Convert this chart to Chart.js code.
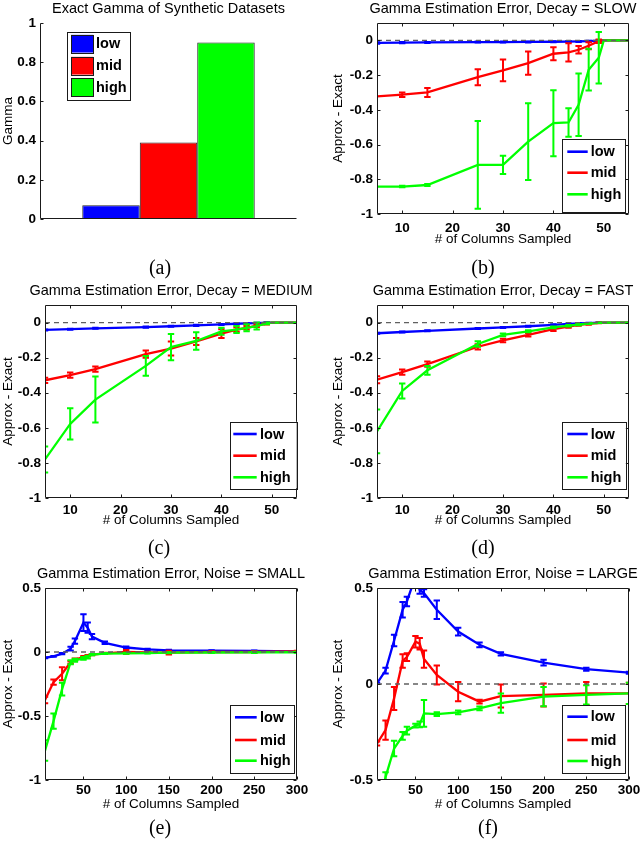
<!DOCTYPE html>
<html><head><meta charset="utf-8">
<script src="https://cdn.jsdelivr.net/npm/chart.js@4.4.1/dist/chart.umd.min.js"></script>
<style>
html,body{margin:0;padding:0;background:#fff;}
#fig{position:relative;width:640px;height:843px;overflow:hidden;background:#fff;}
canvas{position:absolute;}
.ttl{position:absolute;font-family:"Liberation Sans",Arial,Helvetica,sans-serif;font-size:14.5px;color:#000;white-space:nowrap;transform:translate(-50%,-50%);line-height:1;}
.cap{position:absolute;font-family:"Liberation Serif","Times New Roman",serif;font-size:20px;color:#000;white-space:nowrap;transform:translate(-50%,-50%);line-height:1;}
</style></head><body>
<div id="fig">
<canvas id="pa" width="320" height="280" style="left:0;top:0"></canvas>
<canvas id="pb" width="320" height="280" style="left:320px;top:0"></canvas>
<canvas id="pc" width="320" height="280" style="left:0;top:280px"></canvas>
<canvas id="pd" width="320" height="280" style="left:320px;top:280px"></canvas>
<canvas id="pe" width="320" height="283" style="left:0;top:560px"></canvas>
<canvas id="pf" width="320" height="283" style="left:320px;top:560px"></canvas>
<div class="ttl" style="left:168.5px;top:7.5px">Exact Gamma of Synthetic Datasets</div>
<div class="ttl" style="left:503px;top:7.5px">Gamma Estimation Error, Decay = SLOW</div>
<div class="ttl" style="left:171px;top:290px">Gamma Estimation Error, Decay = MEDIUM</div>
<div class="ttl" style="left:503px;top:290px">Gamma Estimation Error, Decay = FAST</div>
<div class="ttl" style="left:171px;top:572.7px">Gamma Estimation Error, Noise = SMALL</div>
<div class="ttl" style="left:503px;top:572.7px">Gamma Estimation Error, Noise = LARGE</div>
<div class="cap" style="left:160px;top:267px">(a)</div>
<div class="cap" style="left:483px;top:267px">(b)</div>
<div class="cap" style="left:159px;top:547px">(c)</div>
<div class="cap" style="left:483px;top:547px">(d)</div>
<div class="cap" style="left:160px;top:827px">(e)</div>
<div class="cap" style="left:488px;top:827px">(f)</div>
</div>
<script>
// ---------------- data ----------------
const gammaLabels = ['low', 'mid', 'high'];
const gammaValues = [0.07, 0.39, 0.90];
const yTicksGamma = [0, 0.2, 0.4, 0.6, 0.8, 1];

const xTicksDecay = [10, 20, 30, 40, 50];
const yTicksDecay = [-1, -0.8, -0.6, -0.4, -0.2, 0];
const xTicksNoise = [50, 100, 150, 200, 250, 300];
const yTicksNoiseSmall = [-1, -0.5, 0, 0.5];
const yTicksNoiseLarge = [-0.5, 0, 0.5];

// Decay = SLOW
const colsSlow    = [5, 10, 15, 25, 30, 35, 40, 43, 45, 47, 49, 50, 55];
const lowSlow     = [-0.015, -0.013, -0.012, -0.010, -0.010, -0.009, -0.008, -0.007, -0.006, -0.004, -0.002, 0, 0];
const lowSlowErr  = [0.004, 0.004, 0.003, 0.003, 0.003, 0.003, 0.003, 0.003, 0.003, 0.002, 0.002, 0, 0];
const midSlow     = [-0.323, -0.313, -0.300, -0.212, -0.173, -0.131, -0.077, -0.069, -0.054, -0.031, -0.005, 0, 0];
const midSlowErr  = [0, 0.013, 0.026, 0.046, 0.063, 0.067, 0.037, 0.053, 0.022, 0.020, 0.010, 0, 0];
const highSlow    = [-0.842, -0.842, -0.833, -0.717, -0.717, -0.583, -0.477, -0.473, -0.371, -0.169, -0.100, 0, 0];
const highSlowErr = [0, 0.004, 0.006, 0.253, 0.052, 0.221, 0.190, 0.082, 0.180, 0.120, 0.148, 0, 0];

// Decay = MEDIUM
const colsMed    = [5, 10, 15, 25, 30, 35, 40, 43, 45, 47, 49, 50, 55];
const lowMed     = [-0.042, -0.038, -0.033, -0.026, -0.021, -0.016, -0.011, -0.007, -0.005, -0.003, -0.001, 0, 0];
const lowMedErr  = [0.003, 0.003, 0.003, 0.003, 0.003, 0.003, 0.003, 0.003, 0.003, 0.002, 0.002, 0, 0];
const midMed     = [-0.329, -0.300, -0.266, -0.180, -0.148, -0.108, -0.063, -0.040, -0.030, -0.018, -0.006, 0, 0];
const midMedErr  = [0.015, 0.015, 0.015, 0.020, 0.040, 0.020, 0.025, 0.012, 0.010, 0.008, 0.005, 0, 0];
const highMed    = [-0.780, -0.578, -0.439, -0.247, -0.140, -0.105, -0.050, -0.040, -0.030, -0.020, -0.005, 0, 0];
const highMedErr = [0.074, 0.089, 0.131, 0.056, 0.075, 0.050, 0.020, 0.020, 0.020, 0.020, 0.005, 0, 0];

// Decay = FAST
const colsFast    = [5, 10, 15, 25, 30, 35, 40, 43, 45, 47, 49, 50, 55];
const lowFast     = [-0.061, -0.054, -0.047, -0.034, -0.028, -0.021, -0.013, -0.008, -0.005, -0.003, -0.001, 0, 0];
const lowFastErr  = [0.003, 0.003, 0.003, 0.003, 0.003, 0.003, 0.003, 0.002, 0.002, 0.002, 0.001, 0, 0];
const midFast     = [-0.326, -0.283, -0.237, -0.138, -0.102, -0.070, -0.038, -0.023, -0.013, -0.008, -0.002, 0, 0];
const midFastErr  = [0.020, 0.015, 0.015, 0.015, 0.010, 0.010, 0.010, 0.006, 0.005, 0.004, 0.002, 0, 0];
const highFast    = [-0.620, -0.390, -0.272, -0.122, -0.070, -0.050, -0.028, -0.018, -0.012, -0.006, -0.002, 0, 0];
const highFastErr = [0.125, 0.043, 0.025, 0.016, 0.008, 0.006, 0.005, 0.004, 0.003, 0.002, 0.001, 0, 0];

// Noise = SMALL
const colsSmall    = [5, 15, 25, 35, 40, 50, 55, 60, 75, 100, 125, 150, 200, 250, 300];
const lowSmall     = [-0.045, -0.034, -0.013, 0.026, 0.085, 0.230, 0.190, 0.120, 0.072, 0.035, 0.020, 0.013, 0.010, 0.008, 0.005];
const lowSmallErr  = [0.003, 0.003, 0.005, 0.015, 0.020, 0.065, 0.040, 0.020, 0.010, 0.008, 0.005, 0.004, 0.004, 0.004, 0.003];
const midSmall     = [-0.375, -0.235, -0.170, -0.080, -0.060, -0.040, -0.030, -0.020, -0.010, 0.000, -0.003, -0.005, 0.000, 0.000, 0.005];
const midSmallErr  = [0.025, 0.020, 0.050, 0.010, 0.010, 0.008, 0.006, 0.005, 0.005, 0.015, 0.005, 0.015, 0.005, 0.005, 0.005];
const highSmall    = [-0.770, -0.540, -0.290, -0.080, -0.065, -0.050, -0.040, -0.020, -0.012, -0.010, -0.008, -0.005, -0.004, -0.003, -0.002];
const highSmallErr = [0.080, 0.060, 0.050, 0.015, 0.012, 0.010, 0.010, 0.005, 0.004, 0.004, 0.004, 0.004, 0.004, 0.004, 0.004];

// Noise = LARGE
const colsLarge    = [5, 15, 25, 35, 40, 50, 55, 60, 75, 100, 125, 150, 200, 250, 300];
const lowLarge     = [0.003, 0.070, 0.226, 0.387, 0.430, 0.560, 0.490, 0.474, 0.387, 0.273, 0.204, 0.157, 0.111, 0.077, 0.059];
const lowLargeErr  = [0.003, 0.015, 0.030, 0.040, 0.025, 0.030, 0.020, 0.020, 0.048, 0.020, 0.012, 0.008, 0.015, 0.008, 0.005];
const midLarge     = [-0.310, -0.240, -0.075, 0.120, 0.140, 0.220, 0.210, 0.130, 0.047, -0.040, -0.092, -0.063, -0.057, -0.049, -0.049];
const midLargeErr  = [0.010, 0.050, 0.060, 0.035, 0.020, 0.030, 0.030, 0.045, 0.050, 0.050, 0.010, 0.060, 0.060, 0.060, 0.055];
const highLarge    = [-0.700, -0.485, -0.336, -0.270, -0.243, -0.217, -0.210, -0.153, -0.157, -0.148, -0.127, -0.100, -0.066, -0.057, -0.049];
const highLargeErr = [0.050, 0.025, 0.040, 0.020, 0.020, 0.010, 0.015, 0.070, 0.010, 0.010, 0.010, 0.050, 0.050, 0.050, 0.055];

// ---------------- styling ----------------
const BLUE = '#0000ff', RED = '#ff0000', GREEN = '#00ff00';
const SANS = '"Liberation Sans", Arial, Helvetica, sans-serif';
Chart.defaults.font.family = SANS;
Chart.defaults.color = '#000';

function fmt(v) { return String(Math.round(v * 1000) / 1000); }
function pts(xs, ys) { return xs.map((x, i) => ({ x: x, y: ys[i] })); }

const errorBars = {
  id: 'errorBars',
  afterDatasetDraw(chart, args) {
    const ds = chart.data.datasets[args.index];
    if (!ds.errorBars) return;
    const ctx = chart.ctx, a = chart.chartArea;
    const xs = chart.scales.x, ys = chart.scales.y;
    ctx.save();
    ctx.beginPath(); ctx.rect(a.left, a.top, a.right - a.left, a.bottom - a.top); ctx.clip();
    ctx.strokeStyle = ds.borderColor; ctx.lineWidth = 2;
    ctx.beginPath();
    ds.data.forEach((p, i) => {
      const e = ds.errorBars[i];
      if (!e) return;
      const px = xs.getPixelForValue(p.x);
      const y0 = ys.getPixelForValue(p.y - e), y1 = ys.getPixelForValue(p.y + e);
      ctx.moveTo(px, y0); ctx.lineTo(px, y1);
      ctx.moveTo(px - 3.2, y0); ctx.lineTo(px + 3.2, y0);
      ctx.moveTo(px - 3.2, y1); ctx.lineTo(px + 3.2, y1);
    });
    ctx.stroke();
    ctx.restore();
  }
};

function axesPlugin(box, xTicksOn) {
  return {
    id: 'matlabAxes',
    afterDatasetsDraw(chart) {
      const ctx = chart.ctx, a = chart.chartArea, sc = chart.scales;
      const L = Math.round(a.left) + 0.5, R = Math.round(a.right) - 0.5;
      const T = Math.round(a.top) + 0.5, B = Math.round(a.bottom) - 0.5;
      ctx.save();
      ctx.strokeStyle = '#1a1a1a'; ctx.lineWidth = 1;
      ctx.beginPath();
      if (box) ctx.rect(L, T, R - L, B - T);
      else { ctx.moveTo(L, T); ctx.lineTo(L, B); ctx.lineTo(R, B); }
      ctx.stroke();
      const len = 3;
      ctx.beginPath();
      if (xTicksOn) {
        for (const t of sc.x.ticks) {
          const p = Math.round(sc.x.getPixelForValue(t.value)) + 0.5;
          ctx.moveTo(p, B); ctx.lineTo(p, B - len);
          if (box) { ctx.moveTo(p, T); ctx.lineTo(p, T + len); }
        }
      }
      for (const t of sc.y.ticks) {
        const p = Math.round(sc.y.getPixelForValue(t.value)) + 0.5;
        ctx.moveTo(L, p); ctx.lineTo(L + len, p);
        if (box) { ctx.moveTo(R, p); ctx.lineTo(R - len, p); }
      }
      ctx.stroke();
      ctx.restore();
    }
  };
}

function legendPlugin(g) {
  return {
    id: 'boxLegend',
    afterDraw(chart) {
      const ctx = chart.ctx;
      const items = chart.data.datasets.filter(d => d.label);
      const [x0, y0, x1, y1] = g.box;
      ctx.save();
      ctx.fillStyle = '#fff';
      ctx.fillRect(x0, y0, x1 - x0, y1 - y0);
      ctx.strokeStyle = '#1a1a1a'; ctx.lineWidth = 1;
      ctx.strokeRect(Math.round(x0) + 0.5, Math.round(y0) + 0.5, Math.round(x1 - x0), Math.round(y1 - y0));
      ctx.font = 'bold 14.5px ' + SANS;
      ctx.textBaseline = 'middle'; ctx.textAlign = 'left';
      items.forEach((d, i) => {
        const y = g.rows[i];
        if (g.kind === 'rect') {
          ctx.fillStyle = d.backgroundColor;
          ctx.fillRect(g.sample[0], y - g.rectH / 2, g.sample[1] - g.sample[0], g.rectH);
          ctx.strokeStyle = '#1a1a1a'; ctx.lineWidth = 1;
          ctx.strokeRect(Math.round(g.sample[0]) + 0.5, Math.round(y - g.rectH / 2) + 0.5, Math.round(g.sample[1] - g.sample[0]), Math.round(g.rectH));
        } else {
          ctx.strokeStyle = d.borderColor; ctx.lineWidth = 2.6;
          ctx.beginPath(); ctx.moveTo(g.sample[0], y); ctx.lineTo(g.sample[1], y); ctx.stroke();
        }
        ctx.fillStyle = '#000';
        ctx.fillText(d.label, g.textX, y + 0.5);
      });
      ctx.restore();
    }
  };
}

const tickFont = { family: SANS, size: 13.5, weight: 'bold' };
const titleFont = { family: SANS, size: 13.5, weight: 'normal' };

// ---------------- panel (a) ----------------
new Chart(document.getElementById('pa'), {
  type: 'bar',
  data: {
    labels: [''],
    datasets: gammaLabels.map((lab, i) => ({
      label: lab,
      data: [gammaValues[i]],
      backgroundColor: [BLUE, RED, GREEN][i],
      borderColor: '#222',
      borderWidth: 1,
      borderSkipped: false
    }))
  },
  options: {
    responsive: false, animation: false,
    layout: { padding: { left: 0, top: 23, right: 320 - 297, bottom: 0 } },
    plugins: { legend: { display: false }, tooltip: { enabled: false } },
    datasets: { bar: { categoryPercentage: 0.671, barPercentage: 1 } },
    scales: {
      x: {
        type: 'category',
        grid: { display: false, drawTicks: false }, border: { display: false },
        ticks: { display: false },
        afterFit: s => { s.height = 280 - 219; s.paddingLeft = 0; s.paddingRight = 0; }
      },
      y: {
        min: 0, max: 1,
        grid: { display: false, drawTicks: false }, border: { display: false },
        afterBuildTicks: s => { s.ticks = yTicksGamma.map(v => ({ value: v })); },
        afterFit: s => { s.width = 40; s.paddingTop = 0; s.paddingBottom = 0; },
        ticks: { padding: 4, font: tickFont, color: '#000', callback: v => fmt(v) },
        title: { display: true, text: 'Gamma', font: titleFont, color: '#000', padding: { top: 0, bottom: 0 } }
      }
    }
  },
  plugins: [axesPlugin(false, false), legendPlugin({
    kind: 'rect', box: [66.7, 31.7, 130, 99.3], rows: [43.7, 65.7, 87.3],
    sample: [71, 93.3], rectH: 17.7, textX: 96
  })]
});

// ---------------- line panels ----------------
function linePanel(id, P) {
  const mk = (label, xs, ys, err, color, order) => ({
    label: label, data: pts(xs, ys), errorBars: err,
    borderColor: color, backgroundColor: color, borderWidth: 2.3,
    pointRadius: 0, tension: 0, fill: false, order: order
  });
  new Chart(document.getElementById(id), {
    type: 'line',
    data: {
      datasets: [
        mk('low', P.x, P.low, P.lowErr, BLUE, 4),
        mk('mid', P.x, P.mid, P.midErr, RED, 3),
        mk('high', P.x, P.high, P.highErr, GREEN, 2),
        { label: '', data: [{ x: P.xMin, y: 0 }, { x: P.xMax, y: 0 }], borderColor: '#606060',
          borderDash: [5, 4], borderWidth: 1.3, pointRadius: 0, fill: false, order: 1 }
      ]
    },
    options: {
      responsive: false, animation: false,
      layout: { padding: { left: 0, top: P.T, right: 320 - P.R, bottom: 0 } },
      plugins: { legend: { display: false }, tooltip: { enabled: false } },
      scales: {
        x: {
          type: 'linear', min: P.xMin, max: P.xMax,
          grid: { display: false, drawTicks: false }, border: { display: false },
          afterBuildTicks: s => { s.ticks = P.xTicks.map(v => ({ value: v })); },
          afterFit: s => { s.height = P.H - P.B; s.paddingLeft = 0; s.paddingRight = 0; },
          ticks: { autoSkip: false, maxRotation: 0, padding: P.xTickPad, font: tickFont, color: '#000', callback: v => fmt(v) },
          title: { display: true, text: '# of Columns Sampled', font: titleFont, color: '#000', padding: { top: 0, bottom: P.xTitlePad } }
        },
        y: {
          type: 'linear', min: P.yMin, max: P.yMax,
          grid: { display: false, drawTicks: false }, border: { display: false },
          afterBuildTicks: s => { s.ticks = P.yTicks.map(v => ({ value: v })); },
          afterFit: s => { s.width = P.L; s.paddingTop = 0; s.paddingBottom = 0; },
          ticks: { autoSkip: false, padding: 4, font: tickFont, color: '#000', callback: v => fmt(v) },
          title: { display: true, text: 'Approx - Exact', font: titleFont, color: '#000', padding: { top: P.yTitlePad, bottom: 0 } }
        }
      }
    },
    plugins: [errorBars, axesPlugin(true, true), legendPlugin(P.legend)]
  });
}

linePanel('pb', {
  x: colsSlow, low: lowSlow, lowErr: lowSlowErr, mid: midSlow, midErr: midSlowErr, high: highSlow, highErr: highSlowErr,
  xMin: 5, xMax: 55, yMin: -1, yMax: 0.1, xTicks: xTicksDecay, yTicks: yTicksDecay,
  L: 57, R: 309, T: 23, B: 214, H: 280, xTickPad: 6.2, xTitlePad: 32.6, yTitlePad: 9.9,
  legend: { kind: 'line', box: [242.3, 139.3, 305.7, 212.7], rows: [151.7, 172.7, 194.3], sample: [247.3, 267.7], textX: 270.7 }
});
linePanel('pc', {
  x: colsMed, low: lowMed, lowErr: lowMedErr, mid: midMed, midErr: midMedErr, high: highMed, highErr: highMedErr,
  xMin: 5, xMax: 55, yMin: -1, yMax: 0.1, xTicks: xTicksDecay, yTicks: yTicksDecay,
  L: 45, R: 297, T: 25, B: 218, H: 280, xTickPad: 3.9, xTitlePad: 31.2, yTitlePad: 0,
  legend: { kind: 'line', box: [230, 141.7, 296.7, 208.3], rows: [154, 175.7, 197.3], sample: [233.3, 256.7], textX: 260 }
});
linePanel('pd', {
  x: colsFast, low: lowFast, lowErr: lowFastErr, mid: midFast, midErr: midFastErr, high: highFast, highErr: highFastErr,
  xMin: 5, xMax: 55, yMin: -1, yMax: 0.1, xTicks: xTicksDecay, yTicks: yTicksDecay,
  L: 57, R: 309, T: 25, B: 218, H: 280, xTickPad: 3.9, xTitlePad: 31.2, yTitlePad: 9.9,
  legend: { kind: 'line', box: [241.7, 141.7, 305.7, 209], rows: [154, 175.7, 197.3], sample: [247.3, 267.7], textX: 270.7 }
});
linePanel('pe', {
  x: colsSmall, low: lowSmall, lowErr: lowSmallErr, mid: midSmall, midErr: midSmallErr, high: highSmall, highErr: highSmallErr,
  xMin: 5, xMax: 300, yMin: -1, yMax: 0.5, xTicks: xTicksNoise, yTicks: yTicksNoiseSmall,
  L: 45, R: 297, T: 28, B: 220, H: 283, xTickPad: 1.9, xTitlePad: 30.9, yTitlePad: 0,
  legend: { kind: 'line', box: [230, 145, 294, 213.3], rows: [157.3, 180, 200.7], sample: [235, 256.7], textX: 260 }
});
linePanel('pf', {
  x: colsLarge, low: lowLarge, lowErr: lowLargeErr, mid: midLarge, midErr: midLargeErr, high: highLarge, highErr: highLargeErr,
  xMin: 5, xMax: 300, yMin: -0.5, yMax: 0.5, xTicks: xTicksNoise, yTicks: yTicksNoiseLarge,
  L: 57, R: 309, T: 28, B: 220, H: 283, xTickPad: 1.9, xTitlePad: 30.9, yTitlePad: 9.9,
  legend: { kind: 'line', box: [242.3, 145, 305.7, 213.3], rows: [156.7, 180, 201], sample: [247.3, 267.7], textX: 270.7 }
});
</script>
</body></html>
